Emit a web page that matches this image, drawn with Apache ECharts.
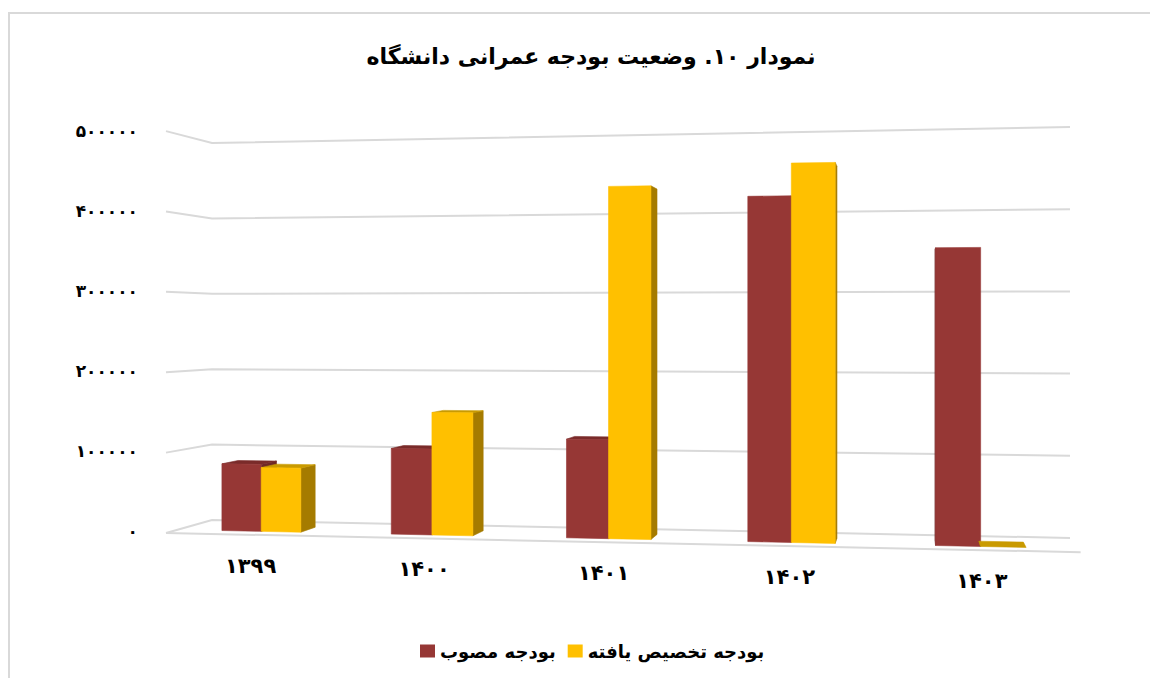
<!DOCTYPE html>
<html>
<head>
<meta charset="utf-8">
<script src="https://cdn.jsdelivr.net/npm/echarts/dist/echarts.min.js"></script>
<style>
  html, body { margin: 0; padding: 0; background: #ffffff; }
  #chart { width: 1150px; height: 678px; }
</style>
</head>
<body>
<div id="chart"></div>
<script>
// ---- data ----
const years = ['۱۳۹۹', '۱۴۰۰', '۱۴۰۱', '۱۴۰۲', '۱۴۰۳'];
const approvedBudget = [84000, 106000, 120000, 413000, 350000];
const allocatedBudget = [80000, 151000, 427000, 452000, 0];
const yTicks = [0, 100000, 200000, 300000, 400000, 500000];
const yTickLabels = ['۰', '۱۰۰۰۰۰', '۲۰۰۰۰۰', '۳۰۰۰۰۰', '۴۰۰۰۰۰', '۵۰۰۰۰۰'];
const seriesNames = ['بودجه مصوب', 'بودجه تخصیص یافته'];
const titleText = 'نمودار ۱۰. وضعیت بودجه عمرانی دانشگاه';

// ---- 3D look: the flat grid is the back wall, warped into a perspective box ----
const PERSP_A = 1.09;          // horizontal foreshortening of the back wall
const WALL_BASE_DROP = 18;     // base line of the back wall drops this much to the right
const WALL_TOP_RISE = 16;      // top line of the back wall rises this much to the right
const VP = [909, 323];         // point the depth scaling converges to
const DEPTH_GAIN = 0.066;      // front plane is this much larger than the back wall
const D_FRONT = 0.74;          // depth of the bars' front faces (0 = wall, 1 = floor edge)
const D_BACK = 0.365;          // depth of the bars' back faces
const BAR_SHARE = 0.235;       // share of a category band taken by each bar

const FONT = "'DejaVu Sans', sans-serif";

function project(cs, x, y, d) {
  const u = (x - cs.x) / cs.width;
  const t = (cs.y + cs.height - y) / cs.height;
  const g = u / (PERSP_A + (1 - PERSP_A) * u);
  const wx = cs.x + cs.width * g;
  const base = cs.y + cs.height + WALL_BASE_DROP * g;
  const top = cs.y - WALL_TOP_RISE * g;
  const wy = base - t * (base - top);
  const s = 1 + DEPTH_GAIN * d;
  return [VP[0] + s * (wx - VP[0]), VP[1] + s * (wy - VP[1])];
}

const palettes = [
  { front: '#963735', side: '#6f2827', top: '#7a2b2a' },
  { front: '#ffc000', side: '#a57b00', top: '#c99a00' }
];

function barRenderer(seriesIdx) {
  const pal = palettes[seriesIdx];
  return function (params, api) {
    const cs = params.coordSys;
    const cat = api.value(0);
    const val = api.value(1);
    const band = api.size([1, 0])[0];
    const basePt = api.coord([cat, 0]);
    const topPt = api.coord([cat, val]);
    const w = band * BAR_SHARE;
    const xL = seriesIdx === 0 ? basePt[0] - w : basePt[0];
    const xR = xL + w;
    const yB = basePt[1], yT = topPt[1];
    const P = (x, y, d) => project(cs, x, y, d);
    const fBL = P(xL, yB, D_FRONT), fBR = P(xR, yB, D_FRONT);
    const fTL = P(xL, yT, D_FRONT), fTR = P(xR, yT, D_FRONT);
    const bBL = P(xL, yB, D_BACK), bBR = P(xR, yB, D_BACK);
    const bTL = P(xL, yT, D_BACK), bTR = P(xR, yT, D_BACK);
    const faces = [];
    const poly = (pts, fill) => ({
      type: 'polygon',
      shape: { points: pts },
      style: { fill: fill, stroke: fill, lineWidth: 0.6 }
    });
    if (bTR[0] > fTR[0]) faces.push(poly([fBR, bBR, bTR, fTR], pal.side));
    if (bTL[0] < fTL[0]) faces.push(poly([fBL, bBL, bTL, fTL], pal.side));
    if (bTL[1] < fTL[1]) faces.push(poly([fTL, fTR, bTR, bTL], pal.top));
    if (val > 0) faces.push(poly([fBL, fBR, fTR, fTL], pal.front));
    return { type: 'group', children: faces };
  };
}

function gridLineRenderer(params, api) {
  const cs = params.coordSys;
  const y = api.coord([0, api.value(1)])[1];
  const x0 = cs.x, x1 = cs.x + cs.width;
  const lineStyle = { stroke: '#d9d9d9', lineWidth: 2, fill: null };
  const children = [{
    type: 'polyline',
    shape: { points: [project(cs, x0, y, 1), project(cs, x0, y, 0), project(cs, x1, y, 0)] },
    style: lineStyle
  }];
  if (api.value(1) === 0) {
    children.push({
      type: 'polyline',
      shape: { points: [project(cs, x0, y, 1), project(cs, x1, y, 1)] },
      style: lineStyle
    });
  }
  return { type: 'group', children: children };
}

function categoryLabelRenderer(params, api) {
  const cs = params.coordSys;
  const pt = api.coord([api.value(0), 0]);
  const p = project(cs, pt[0], pt[1], 1);
  return {
    type: 'text',
    x: p[0],
    y: p[1] + 31,
    style: {
      text: years[params.dataIndex],
      fill: '#000000',
      fontSize: 21,
      fontWeight: 'bold',
      fontFamily: FONT,
      align: 'center',
      verticalAlign: 'middle'
    }
  };
}

const chart = echarts.init(document.getElementById('chart'), null, { renderer: 'svg' });

chart.setOption({
  backgroundColor: '#ffffff',
  animation: false,
  title: {
    text: titleText,
    left: 586,
    top: 40,
    textAlign: 'center',
    textStyle: { fontSize: 22, fontWeight: 'bold', color: '#000000', fontFamily: FONT }
  },
  legend: {
    data: seriesNames,
    left: 415,
    top: 637,
    icon: 'rect',
    itemWidth: 15,
    itemHeight: 13,
    itemGap: 12,
    textStyle: { fontSize: 18, fontWeight: 'bold', color: '#000000', fontFamily: FONT }
  },
  graphic: [{
    type: 'rect',
    shape: { x: 9, y: 13, width: 1300, height: 800 },
    style: { fill: null, stroke: '#d9d9d9', lineWidth: 2 },
    silent: true
  }],
  grid: [
    { left: 212, top: 143, width: 858, height: 377 },
    { left: 166, top: 131, width: 10, height: 400 }
  ],
  xAxis: [
    { type: 'category', data: years, gridIndex: 0, show: false },
    { type: 'value', gridIndex: 1, show: false }
  ],
  yAxis: [
    { type: 'value', gridIndex: 0, min: 0, max: 500000, interval: 100000, show: false },
    {
      type: 'value', gridIndex: 1, min: 0, max: 500000, interval: 100000,
      axisLine: { show: false }, axisTick: { show: false }, splitLine: { show: false },
      axisLabel: {
        margin: 28,
        fontSize: 17,
        fontWeight: 'bold',
        color: '#000000',
        fontFamily: FONT,
        formatter: (v) => yTickLabels[yTicks.indexOf(v)]
      }
    }
  ],
  series: [
    {
      type: 'custom',
      name: 'gridlines',
      xAxisIndex: 0, yAxisIndex: 0,
      data: yTicks.map((v) => [0, v]),
      renderItem: gridLineRenderer,
      silent: true,
      z: 1
    },
    {
      type: 'custom',
      name: seriesNames[0],
      xAxisIndex: 0, yAxisIndex: 0,
      itemStyle: { color: palettes[0].front },
      data: approvedBudget.map((v, i) => [i, v]),
      renderItem: barRenderer(0),
      z: 2
    },
    {
      type: 'custom',
      name: seriesNames[1],
      xAxisIndex: 0, yAxisIndex: 0,
      itemStyle: { color: palettes[1].front },
      data: allocatedBudget.map((v, i) => [i, v]),
      renderItem: barRenderer(1),
      z: 3
    },
    {
      type: 'custom',
      name: 'categories',
      xAxisIndex: 0, yAxisIndex: 0,
      data: years.map((y, i) => [i, 0]),
      renderItem: categoryLabelRenderer,
      silent: true,
      z: 4
    }
  ]
});
</script>
</body>
</html>
